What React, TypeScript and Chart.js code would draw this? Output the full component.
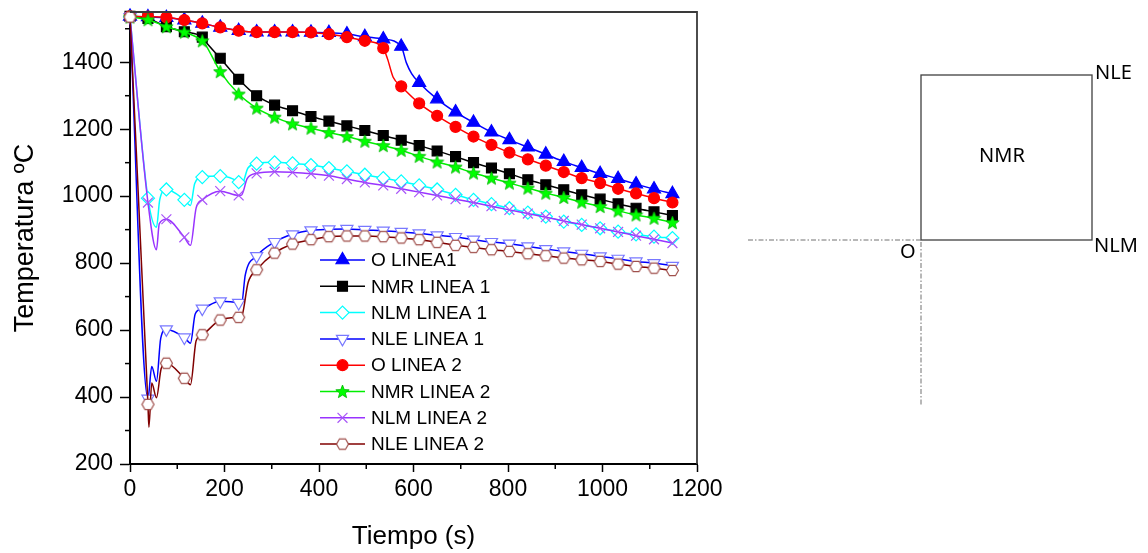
import React, { useEffect, useRef } from 'react';
import { Chart, registerables } from 'chart.js';
import { drawPoint } from 'chart.js/helpers';

Chart.register(...registerables);

// ---------- DATA ----------
const TIMES = [0, 38, 77, 115, 153, 191, 230, 268, 306, 344, 383, 421, 459, 497, 536, 574, 612, 650, 689, 727, 765, 803, 842, 880, 918, 956, 995, 1033, 1071, 1109, 1148];

const SERIES_NAMES = ['O LINEA1', 'NMR LINEA 1', 'NLM LINEA 1', 'NLE LINEA 1', 'O LINEA 2', 'NMR LINEA 2', 'NLM LINEA 2', 'NLE LINEA 2'];

const O_LINEA1 = [1537, 1535, 1533, 1526, 1516, 1504, 1494, 1490, 1490, 1490, 1489, 1488, 1484, 1476, 1469, 1447, 1339, 1290, 1251, 1220, 1191, 1168, 1146, 1125, 1103, 1085, 1067, 1052, 1036, 1021, 1007];
const O_LINEA1_EXTRA = [[585, 1398], [596, 1366]];

const NMR_LINEA1 = [1537, 1531, 1506, 1491, 1475, 1412, 1349, 1300, 1272, 1255, 1238, 1224, 1210, 1196, 1181, 1167, 1151, 1135, 1118, 1100, 1084, 1067, 1049, 1034, 1019, 1004, 991, 977, 964, 953, 942];
const NMR_LINEA1_EXTRA = [[162, 1458]];

const NLM_LINEA1 = [1535, 994, 1020, 989, 1057, 1060, 1042, 1097, 1101, 1098, 1093, 1084, 1074, 1064, 1054, 1044, 1032, 1020, 1004, 989, 976, 964, 951, 939, 924, 914, 904, 894, 886, 879, 875];
const NLM_LINEA1_EXTRA = [[56, 907], [63, 990], [128, 972], [137, 1038], [236, 1034], [250, 1085]];

const NLE_LINEA1 = [1535, 395, 602, 578, 664, 686, 681, 821, 863, 886, 898, 901, 902, 899, 897, 893, 889, 883, 878, 870, 863, 858, 850, 842, 835, 828, 820, 813, 805, 800, 792];
const NLE_LINEA1_EXTRA = [[46, 491], [56, 447], [65, 575], [128, 561], [138, 648], [236, 678], [244, 765]];

const O_LINEA2 = [1537, 1536, 1534, 1526, 1516, 1504, 1494, 1490, 1490, 1490, 1489, 1484, 1475, 1464, 1442, 1328, 1277, 1240, 1207, 1178, 1153, 1130, 1110, 1091, 1072, 1054, 1039, 1022, 1008, 994, 981];
const O_LINEA2_EXTRA = [[545, 1410], [557, 1355]];

const NMR_LINEA2 = [1535, 1527, 1506, 1490, 1464, 1372, 1305, 1263, 1236, 1216, 1203, 1190, 1178, 1164, 1151, 1137, 1119, 1102, 1087, 1069, 1054, 1039, 1024, 1009, 996, 982, 969, 956, 944, 934, 921];
const NMR_LINEA2_EXTRA = [[160, 1452]];

const NLM_LINEA2 = [1535, 981, 931, 877, 989, 1015, 1002, 1068, 1073, 1071, 1067, 1061, 1051, 1041, 1032, 1022, 1012, 1002, 991, 981, 970, 959, 948, 937, 926, 915, 904, 893, 882, 871, 860];
const NLM_LINEA2_EXTRA = [[56, 840], [62, 918], [128, 853], [140, 965], [236, 1003], [248, 1052]];

const NLE_LINEA2 = [1535, 378, 501, 456, 586, 630, 638, 780, 830, 857, 870, 879, 881, 881, 879, 875, 870, 862, 853, 847, 840, 835, 828, 822, 815, 810, 805, 797, 790, 785, 778];
const NLE_LINEA2_EXTRA = [[40, 310], [46, 442], [56, 398], [66, 485], [128, 437], [140, 568], [236, 640], [250, 742]];

const X_MIN = 0;
const X_MAX = 1200;
const X_STEP = 200;
const X_MINOR = [100, 300, 500, 700, 900, 1100];
const Y_MIN = 200;
const Y_MAX = 1550;
const Y_STEP = 200;
const Y_MINOR = [300, 500, 700, 900, 1100, 1300, 1500];

const X_TITLE = 'Tiempo (s)';
const Y_TITLE = 'Temperatura ºC';

const DIAGRAM_LABELS = { center: 'NMR', topRight: 'NLE', bottomRight: 'NLM', origin: 'O' };

// ---------- STYLES ----------
const FONT = "'Liberation Sans', Arial, sans-serif";

function makeStar(): HTMLCanvasElement {
  const c = document.createElement('canvas');
  c.width = 15; c.height = 15;
  const g = c.getContext('2d')!;
  g.beginPath();
  for (let k = 0; k < 10; k++) {
    const r = k % 2 === 0 ? 7 : 3;
    const a = -Math.PI / 2 + (k * Math.PI) / 5;
    const px = 7.5 + r * Math.cos(a);
    const py = 8 + r * Math.sin(a);
    if (k === 0) g.moveTo(px, py); else g.lineTo(px, py);
  }
  g.closePath();
  g.fillStyle = '#00FF00';
  g.fill();
  g.strokeStyle = '#00B400';
  g.lineWidth = 0.8;
  g.stroke();
  return c;
}

function makeHex(): HTMLCanvasElement {
  const c = document.createElement('canvas');
  c.width = 15; c.height = 15;
  const g = c.getContext('2d')!;
  g.beginPath();
  for (let k = 0; k < 6; k++) {
    const a = (k * Math.PI) / 3;
    const px = 7.5 + 6 * Math.cos(a);
    const py = 7.5 + 6 * Math.sin(a);
    if (k === 0) g.moveTo(px, py); else g.lineTo(px, py);
  }
  g.closePath();
  g.fillStyle = '#FFFFFF';
  g.fill();
  g.strokeStyle = '#A0504C';
  g.lineWidth = 1.2;
  g.stroke();
  return c;
}

function buildData(vals: number[], extra: number[][]) {
  const pts: { x: number; y: number; m: boolean }[] = TIMES.map((t, i) => ({ x: t, y: vals[i], m: true }));
  extra.forEach(([t, v]) => pts.push({ x: t, y: v, m: false }));
  pts.sort((a, b) => a.x - b.x);
  return pts;
}

export default function App() {
  const ref = useRef<HTMLCanvasElement | null>(null);

  useEffect(() => {
    document.body.style.margin = '0';
    const canvas = ref.current;
    if (!canvas) return;
    const star = makeStar();
    const hex = makeHex();

    const styles = [
      { line: '#0000FF', stroke: '#0000FF', fill: '#0000FF', style: 'triangle', rot: 0, r: 7.5 },
      { line: '#000000', stroke: '#000000', fill: '#000000', style: 'rect', rot: 0, r: 7 },
      { line: '#00FFFF', stroke: '#00FFFF', fill: '#FFFFFF', style: 'rectRot', rot: 0, r: 6.5 },
      { line: '#0000FF', stroke: '#7878FF', fill: '#FFFFFF', style: 'triangle', rot: 180, r: 7 },
      { line: '#FF0000', stroke: '#FF0000', fill: '#FF0000', style: 'circle', rot: 0, r: 5.5 },
      { line: '#00EE00', stroke: '#00FF00', fill: '#00FF00', style: star, rot: 0, r: 6 },
      { line: '#9933FF', stroke: '#A855F7', fill: '#A855F7', style: 'crossRot', rot: 0, r: 7 },
      { line: '#800000', stroke: '#A0504C', fill: '#FFFFFF', style: hex, rot: 0, r: 6 },
    ];

    const seriesVals = [O_LINEA1, NMR_LINEA1, NLM_LINEA1, NLE_LINEA1, O_LINEA2, NMR_LINEA2, NLM_LINEA2, NLE_LINEA2];
    const seriesExtra = [O_LINEA1_EXTRA, NMR_LINEA1_EXTRA, NLM_LINEA1_EXTRA, NLE_LINEA1_EXTRA, O_LINEA2_EXTRA, NMR_LINEA2_EXTRA, NLM_LINEA2_EXTRA, NLE_LINEA2_EXTRA];

    const datasets = SERIES_NAMES.map((name, i) => {
      const s = styles[i];
      return {
        label: name,
        data: buildData(seriesVals[i], seriesExtra[i]),
        borderColor: s.line,
        backgroundColor: s.fill,
        borderWidth: 1.5,
        pointStyle: s.style as any,
        pointRotation: s.rot,
        pointBorderColor: s.stroke,
        pointBackgroundColor: s.fill,
        pointBorderWidth: 1.2,
        pointRadius: (c: any) => (c.raw && c.raw.m ? s.r : 0),
        pointHoverRadius: (c: any) => (c.raw && c.raw.m ? s.r : 0),
        cubicInterpolationMode: 'monotone' as const,
        fill: false,
        clip: false as any,
        order: 7 - i,
      };
    });

    const legendPlugin = {
      id: 'customLegend',
      afterDatasetsDraw(chart: any) {
        const { ctx, chartArea: a } = chart;
        const x0 = a.left + 190;
        const y0 = a.top + 248;
        const step = 26.3;
        ctx.save();
        SERIES_NAMES.forEach((name, i) => {
          const s = styles[i];
          const y = y0 + i * step;
          ctx.strokeStyle = s.line;
          ctx.lineWidth = 1.5;
          ctx.setLineDash([]);
          ctx.beginPath();
          ctx.moveTo(x0, y);
          ctx.lineTo(x0 + 45, y);
          ctx.stroke();
          ctx.fillStyle = s.fill;
          ctx.strokeStyle = s.stroke;
          ctx.lineWidth = 1.2;
          drawPoint(ctx, { pointStyle: s.style as any, rotation: s.rot, radius: s.r, borderWidth: 1.2 } as any, x0 + 22.5, y);
          ctx.fillStyle = '#000000';
          ctx.font = `19px ${FONT}`;
          ctx.textAlign = 'left';
          ctx.textBaseline = 'middle';
          ctx.fillText(name, x0 + 51, y + 1);
        });
        ctx.restore();
      },
    };

    const framePlugin = {
      id: 'frameAndDiagram',
      afterDraw(chart: any) {
        const { ctx, chartArea: a, scales } = chart;
        const xs = scales.x;
        const ys = scales.y;
        ctx.save();
        ctx.setLineDash([]);
        // minor ticks
        ctx.strokeStyle = '#000000';
        ctx.lineWidth = 1.5;
        Y_MINOR.forEach((v) => {
          const py = ys.getPixelForValue(v);
          ctx.beginPath();
          ctx.moveTo(a.left - 5, py);
          ctx.lineTo(a.left, py);
          ctx.stroke();
        });
        X_MINOR.forEach((v) => {
          const px = xs.getPixelForValue(v);
          ctx.beginPath();
          ctx.moveTo(px, a.bottom);
          ctx.lineTo(px, a.bottom + 5);
          ctx.stroke();
        });
        // frame top & right
        ctx.strokeStyle = '#3a3a3a';
        ctx.lineWidth = 1.8;
        ctx.beginPath();
        ctx.moveTo(a.left, a.top);
        ctx.lineTo(a.right, a.top);
        ctx.lineTo(a.right, a.bottom);
        ctx.stroke();

        // ----- schematic on the right -----
        const rx0 = 921, rx1 = 1092, ry0 = 75, ry1 = 240;
        ctx.strokeStyle = '#404040';
        ctx.lineWidth = 1.3;
        ctx.strokeRect(rx0, ry0, rx1 - rx0, ry1 - ry0);
        ctx.strokeStyle = '#707070';
        ctx.lineWidth = 1;
        ctx.setLineDash([5, 2, 1.5, 2]);
        ctx.beginPath();
        ctx.moveTo(748, ry1);
        ctx.lineTo(rx0, ry1);
        ctx.stroke();
        ctx.beginPath();
        ctx.moveTo(rx0, ry1 + 2);
        ctx.lineTo(rx0, 406);
        ctx.stroke();
        ctx.setLineDash([]);
        ctx.fillStyle = '#000000';
        ctx.font = "20px 'Noto Sans', 'Open Sans', sans-serif";
        ctx.textBaseline = 'alphabetic';
        ctx.textAlign = 'center';
        ctx.fillText(DIAGRAM_LABELS.center, 1002, 162);
        ctx.textAlign = 'left';
        ctx.fillText(DIAGRAM_LABELS.topRight, 1095, 79);
        ctx.fillText(DIAGRAM_LABELS.bottomRight, 1094, 252);
        ctx.fillText(DIAGRAM_LABELS.origin, 900, 258);
        ctx.restore();
      },
    };

    const chart = new Chart(canvas, {
      type: 'line',
      data: { datasets: datasets as any },
      options: {
        animation: false,
        responsive: false,
        devicePixelRatio: 1,
        layout: { padding: { left: 0, top: 12, right: 451, bottom: 0 } },
        plugins: { legend: { display: false }, tooltip: { enabled: false } },
        scales: {
          x: {
            type: 'linear',
            min: X_MIN,
            max: X_MAX,
            border: { display: true, color: '#000000', width: 2 },
            grid: { display: true, drawOnChartArea: false, drawTicks: true, tickLength: 8, tickColor: '#000000', tickWidth: 1.5 },
            ticks: { stepSize: X_STEP, includeBounds: false, padding: 4, color: '#000000', font: { family: FONT, size: 23 }, maxRotation: 0, callback: (v: any) => String(v) },
            title: { display: true, text: X_TITLE, color: '#000000', font: { family: FONT, size: 26 }, padding: { top: 0, bottom: 1 } },
            afterFit: (s: any) => { s.height = 89; s.paddingLeft = 0; s.paddingRight = 0; },
          },
          y: {
            type: 'linear',
            min: Y_MIN,
            max: Y_MAX,
            border: { display: true, color: '#000000', width: 2 },
            grid: { display: true, drawOnChartArea: false, drawTicks: true, tickLength: 10, tickColor: '#000000', tickWidth: 1.5 },
            ticks: { stepSize: Y_STEP, includeBounds: false, padding: 7, color: '#000000', font: { family: FONT, size: 23 }, callback: (v: any) => String(v) },
            title: { display: true, text: Y_TITLE, color: '#000000', font: { family: FONT, size: 27 }, padding: { top: 9, bottom: 0 } },
            afterFit: (s: any) => { s.width = 130; s.paddingTop = 0; s.paddingBottom = 0; },
          },
        },
      },
      plugins: [legendPlugin, framePlugin],
    });

    return () => chart.destroy();
  }, []);

  return (
    <div style={{ width: 1148, height: 553, background: '#FFFFFF' }}>
      <canvas ref={ref} width={1148} height={553} style={{ display: 'block' }} />
    </div>
  );
}
